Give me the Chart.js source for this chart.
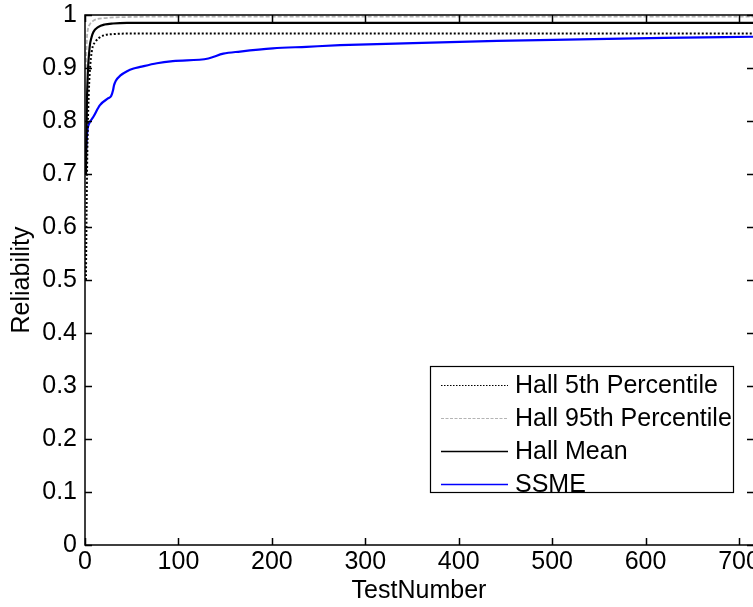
<!DOCTYPE html>
<html>
<head>
<meta charset="utf-8">
<script src="https://cdn.jsdelivr.net/npm/chart.js@4"></script>
<style>
html,body{margin:0;padding:0;background:#fff;overflow:hidden;}
#wrap{width:753px;height:607px;}
</style>
</head>
<body>
<div id="wrap"><canvas id="c" width="753" height="607"></canvas></div>
<script>
// ---- data ----
const xTicks = [0, 100, 200, 300, 400, 500, 600, 700];
const yTicks = [0, 0.1, 0.2, 0.3, 0.4, 0.5, 0.6, 0.7, 0.8, 0.9, 1];
const yTickLabels = ['0', '0.1', '0.2', '0.3', '0.4', '0.5', '0.6', '0.7', '0.8', '0.9', '1'];

const p5X  = [1, 2, 3, 4, 5, 7.5, 11, 16, 21, 30, 50, 715];
const p5Y  = [0.50, 0.68, 0.79, 0.85, 0.89, 0.934, 0.949, 0.958, 0.962, 0.964, 0.965, 0.965];

const p95X = [1, 2, 3, 5, 8, 12, 20, 40, 100, 715];
const p95Y = [0.90, 0.955, 0.972, 0.982, 0.988, 0.992, 0.994, 0.996, 0.997, 0.997];

const meanX = [1, 2, 3, 5, 7, 9, 14, 21, 30, 45, 100, 715];
const meanY = [0.70, 0.83, 0.89, 0.94, 0.958, 0.968, 0.977, 0.982, 0.984, 0.985, 0.985, 0.985];

const ssmeX = [1, 2, 3, 5, 9, 16, 25, 28, 30, 31, 33, 38, 45, 52, 59, 77, 94, 132, 148, 166, 201, 237, 273, 351, 441, 530, 620, 715];
const ssmeY = [0.74, 0.77, 0.787, 0.797, 0.808, 0.83, 0.843, 0.847, 0.858, 0.867, 0.876, 0.886, 0.894, 0.899, 0.902, 0.909, 0.913, 0.918, 0.927, 0.931, 0.937, 0.94, 0.943, 0.947, 0.951, 0.954, 0.957, 0.959];

const seriesNames = ['Hall 5th Percentile', 'Hall 95th Percentile', 'Hall Mean', 'SSME'];
const xTitle = 'TestNumber';
const yTitle = 'Reliability';

const zip = (xs, ys) => xs.map((x, i) => ({x: x, y: ys[i]}));
const FONT = "'Liberation Sans', Arial, sans-serif";
const FS = 25;

const boxPlugin = {
  id: 'box',
  afterDatasetsDraw(chart) {
    const ctx = chart.ctx, a = chart.chartArea;
    const xs = chart.scales.x, ys = chart.scales.y;
    ctx.save();
    ctx.strokeStyle = '#000';
    ctx.lineWidth = 1.5;
    ctx.beginPath();
    ctx.moveTo(a.right + 2, a.top); ctx.lineTo(a.left, a.top);
    ctx.lineTo(a.left, a.bottom); ctx.lineTo(a.right + 2, a.bottom);
    ctx.stroke();
    const L = 7;
    ctx.beginPath();
    xTicks.forEach(v => {
      const px = Math.round(xs.getPixelForValue(v)) + 0.5;
      ctx.moveTo(px, a.bottom); ctx.lineTo(px, a.bottom - L);
      ctx.moveTo(px, a.top); ctx.lineTo(px, a.top + L);
    });
    yTicks.forEach(v => {
      const py = Math.round(ys.getPixelForValue(v)) + 0.5;
      ctx.moveTo(a.left, py); ctx.lineTo(a.left + L, py);
      ctx.moveTo(a.right + 1, py); ctx.lineTo(a.right + 1 - L, py);
    });
    ctx.stroke();
    ctx.restore();
  },
  afterDraw(chart) {
    const ctx = chart.ctx;
    const bx = 430, by = 366, bw = 303, bh = 126;
    ctx.save();
    ctx.fillStyle = '#fff';
    ctx.fillRect(bx, by, bw, bh);
    ctx.strokeStyle = '#000';
    ctx.lineWidth = 1.2;
    ctx.strokeRect(bx + 0.5, by + 0.5, bw, bh);
    ctx.font = FS + 'px ' + FONT;
    ctx.textBaseline = 'middle';
    ctx.fillStyle = '#000';
    chart.data.datasets.forEach((ds, i) => {
      const cy = by + 19 + i * 33;
      ctx.beginPath();
      ctx.strokeStyle = ds.borderColor;
      ctx.lineWidth = ds.legendWidth;
      ctx.setLineDash(ds.legendDash || []);
      ctx.moveTo(441, cy + 0.5); ctx.lineTo(508, cy + 0.5);
      ctx.stroke();
      ctx.setLineDash([]);
      ctx.fillText(ds.label, 515, cy + 1);
    });
    ctx.restore();
  }
};

new Chart(document.getElementById('c'), {
  type: 'line',
  data: {
    datasets: [
      {label: seriesNames[0], data: zip(p5X, p5Y), borderColor: '#000', borderWidth: 2, borderDash: [2, 2], legendDash: [1.5, 1.5], legendWidth: 1.2, cubicInterpolationMode: 'monotone', pointRadius: 0, fill: false},
      {label: seriesNames[1], data: zip(p95X, p95Y), borderColor: '#b4b4b4', borderWidth: 1.8, borderDash: [4, 2], legendDash: [3, 1.5], legendWidth: 1.2, cubicInterpolationMode: 'monotone', pointRadius: 0, fill: false},
      {label: seriesNames[2], data: zip(meanX, meanY), borderColor: '#000', borderWidth: 2.2, legendWidth: 1.5, cubicInterpolationMode: 'monotone', pointRadius: 0, fill: false},
      {label: seriesNames[3], data: zip(ssmeX, ssmeY), borderColor: '#0000ff', borderWidth: 2.2, legendWidth: 1.5, cubicInterpolationMode: 'monotone', pointRadius: 0, fill: false}
    ]
  },
  options: {
    responsive: false,
    animation: false,
    devicePixelRatio: 1,
    layout: {padding: {left: 0, right: 0, top: 15, bottom: 0}},
    plugins: {legend: {display: false}, tooltip: {enabled: false}},
    scales: {
      x: {
        type: 'linear', min: 0, max: 715,
        grid: {display: false, drawTicks: false},
        border: {display: false},
        afterBuildTicks: s => { s.ticks = xTicks.map(v => ({value: v})); },
        afterFit: s => { s.height = 62; s.paddingLeft = 0; s.paddingRight = 0; },
        ticks: {color: '#000', font: {family: FONT, size: FS}, padding: 2, maxRotation: 0, autoSkip: false,
                callback: v => String(v)},
        title: {display: true, text: xTitle, color: '#000', font: {family: FONT, size: FS}, padding: {top: 0, bottom: 1}}
      },
      y: {
        type: 'linear', min: 0, max: 1,
        grid: {display: false, drawTicks: false},
        border: {display: false},
        afterBuildTicks: s => { s.ticks = yTicks.map(v => ({value: v})); },
        afterFit: s => { s.width = 85; s.paddingTop = 0; s.paddingBottom = 0; },
        ticks: {color: '#000', font: {family: FONT, size: FS}, padding: 8, autoSkip: false,
                callback: (v, i) => yTickLabels[i]},
        title: {display: true, text: yTitle, color: '#000', font: {family: FONT, size: FS}, padding: {top: 7, bottom: 0}}
      }
    }
  },
  plugins: [boxPlugin]
});
</script>
</body>
</html>
